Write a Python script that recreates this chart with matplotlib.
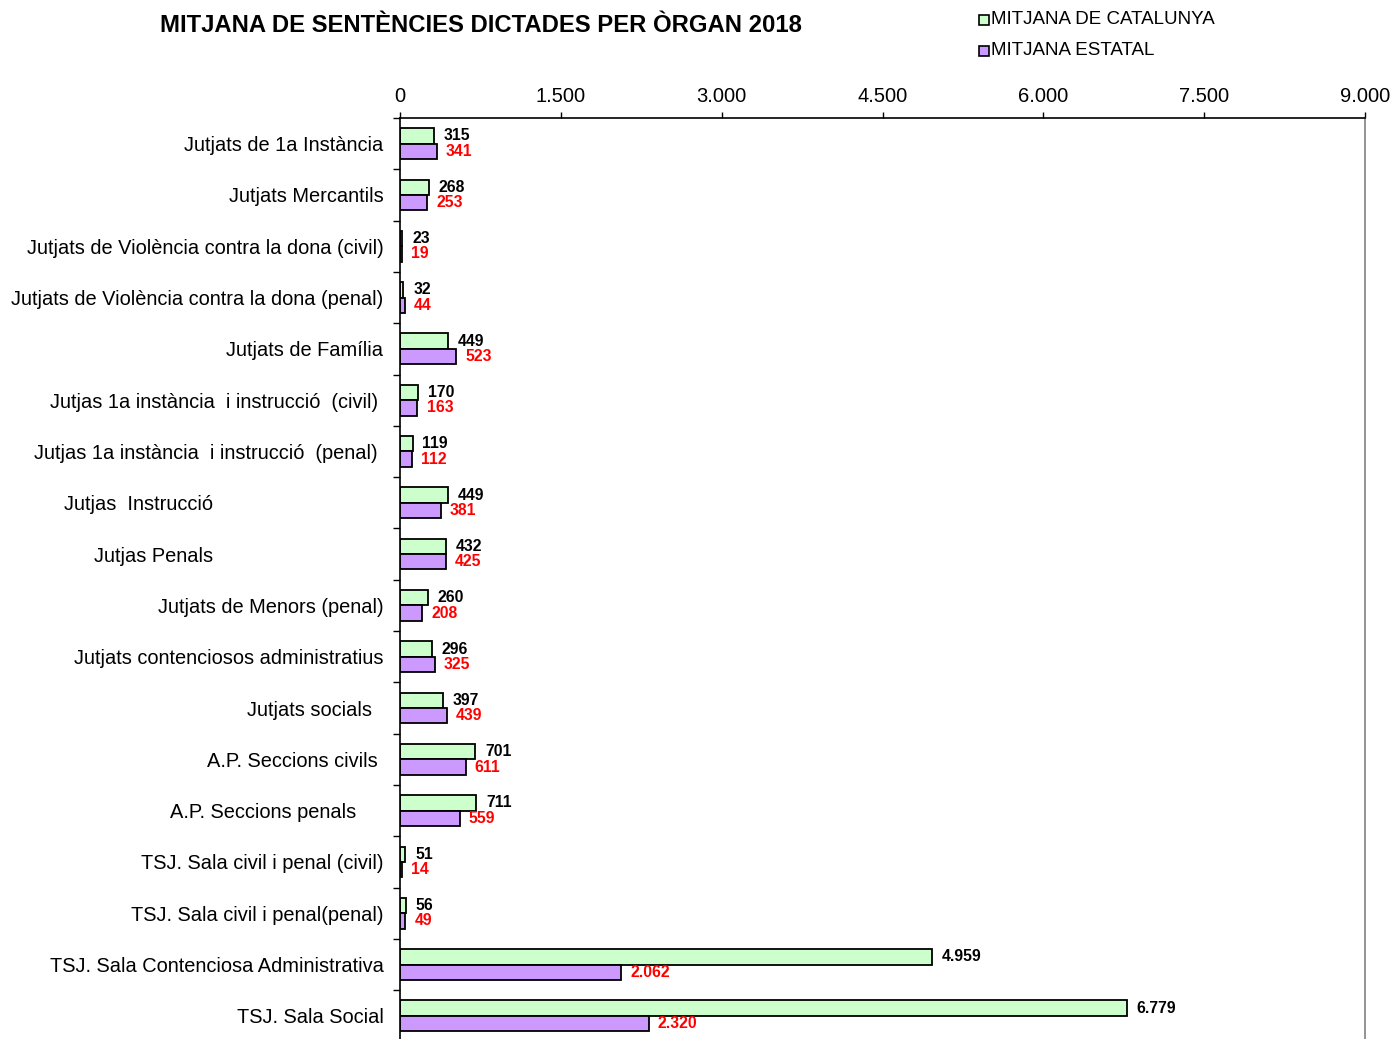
import matplotlib
matplotlib.use("Agg")
import matplotlib.pyplot as plt
from matplotlib.patches import Rectangle

plt.rcParams['font.family'] = ['Liberation Sans', 'DejaVu Sans']

categories = [
    "Jutjats de 1a Instància ",
    "Jutjats Mercantils ",
    "Jutjats de Violència contra la dona (civil) ",
    "Jutjats de Violència contra la dona (penal) ",
    "Jutjats de Família ",
    "Jutjas 1a instància  i instrucció  (civil)  ",
    "Jutjas 1a instància  i instrucció  (penal)  ",
    "Jutjas  Instrucció                                ",
    "Jutjas Penals                                ",
    "Jutjats de Menors (penal) ",
    "Jutjats contenciosos administratius ",
    "Jutjats socials   ",
    "A.P. Seccions civils  ",
    "A.P. Seccions penals      ",
    "TSJ. Sala civil i penal (civil) ",
    "TSJ. Sala civil i penal(penal) ",
    "TSJ. Sala Contenciosa Administrativa ",
    "TSJ. Sala Social ",
]
catalunya = [315, 268, 23, 32, 449, 170, 119, 449, 432, 260, 296, 397, 701, 711, 51, 56, 4959, 6779]
estatal = [341, 253, 19, 44, 523, 163, 112, 381, 425, 208, 325, 439, 611, 559, 14, 49, 2062, 2320]
xticks = [0, 1500, 3000, 4500, 6000, 7500, 9000]
series_names = ["MITJANA DE CATALUNYA", "MITJANA ESTATAL"]
title = "MITJANA DE SENTÈNCIES DICTADES PER ÒRGAN 2018"

green = "#CCFFCC"
purple = "#CC99FF"

def fmt(v):
    return f"{v:,}".replace(",", ".")

fig = plt.figure(figsize=(13.93, 10.39), dpi=100)
ax = fig.add_axes([400/1393, 1 - 1041.5/1039, 965/1393, (1041.5-118)/1039])

n = len(categories)
ypos = list(range(n))
h = 0.3
ax.barh([y - h/2 for y in ypos], catalunya, height=h, color=green, edgecolor="black", linewidth=1.3)
ax.barh([y + h/2 for y in ypos], estatal, height=h, color=purple, edgecolor="black", linewidth=1.3)

for y, c, e in zip(ypos, catalunya, estatal):
    ax.annotate(fmt(c), (c, y - h/2), xytext=(7, 0), textcoords="offset points",
                va="center", ha="left", fontsize=11.3, fontweight="bold", color="black")
    ax.annotate(fmt(e), (e, y + h/2), xytext=(6.5, 0), textcoords="offset points",
                va="center", ha="left", fontsize=11.3, fontweight="bold", color="#FF0000")

ax.set_xlim(0, 9000)
ax.set_ylim(n - 0.5, -0.5)
ax.xaxis.tick_top()
ax.set_xticks(xticks)
ax.set_xticklabels([fmt(v) for v in xticks], fontsize=14.5)
ax.tick_params(axis='x', direction='out', length=4.5, width=1, pad=4)

ax.set_yticks(ypos)
ax.set_yticklabels(categories, fontsize=14.4)
ax.tick_params(axis='y', length=0, pad=8)
ax.set_yticks([y + 0.5 for y in range(-1, n)], minor=True)
ax.tick_params(axis='y', which='minor', direction='out', length=5, width=1)

ax.spines['bottom'].set_visible(False)
ax.spines['right'].set_color('#808080')
ax.spines['right'].set_linewidth(1.2)
ax.spines['top'].set_linewidth(1.2)
ax.spines['left'].set_linewidth(1.2)

fig.text(160/1393, 1 - 25/1039, title, fontsize=17.2, fontweight="bold", ha="left", va="center")

for i, (name, col) in enumerate(zip(series_names, [green, purple])):
    yc = 1 - (19.5 + i*31)/1039
    fig.patches.append(Rectangle((979/1393, yc - 5/1039), 10/1393, 10/1039, transform=fig.transFigure,
                                 facecolor=col, edgecolor="black", linewidth=1.2))
    fig.text(991/1393, yc, name, fontsize=13.5, ha="left", va="center")

fig.savefig("out.png", dpi=100)
